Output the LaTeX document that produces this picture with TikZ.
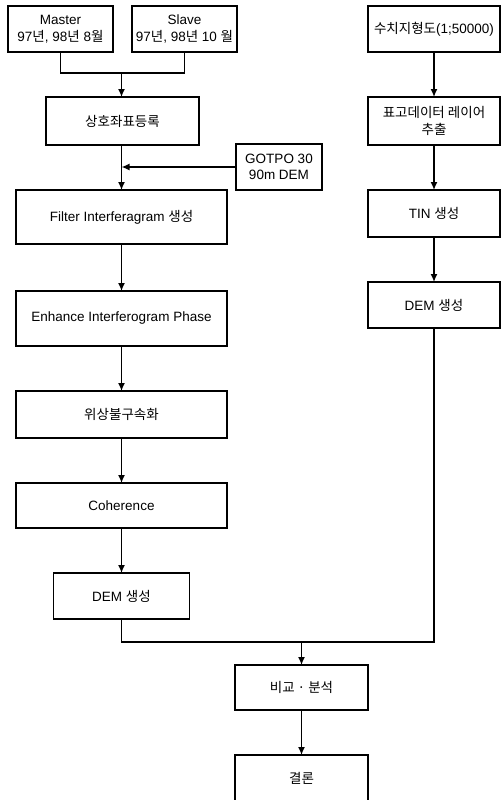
\documentclass[tikz,border=0pt]{standalone}
\usepackage{fontspec}
\setmainfont{Liberation Sans}
\newfontfamily\krfont{Noto Sans CJK KR}
\newcommand{\K}[1]{{\krfont #1}}
\usetikzlibrary{arrows.meta}
\begin{document}
\begin{tikzpicture}[x=1pt,y=-1pt,
  box/.style={draw=black, line width=1.4pt, fill=white, inner sep=0pt, outer sep=0pt,
    align=center, font=\fontsize{13.5}{16.5}\selectfont},
  conn/.style={line width=1.4pt},
  arr/.style={conn, -{Latex[length=8pt,width=7pt]}}]
\fill[white] (0,0) rectangle (501,800);
\useasboundingbox (0,0) rectangle (501,800);

% left column
\node[box, minimum width=105pt, minimum height=46pt] (master) at (60.5,29) {Master\\97\K{년}, 98\K{년} 8\K{월}};
\node[box, minimum width=105pt, minimum height=46pt] (slave) at (184.5,29) {Slave\\97\K{년}, 98\K{년} 10 \K{월}};
\node[box, minimum width=153pt, minimum height=48pt] (sangho) at (122.5,121) {\K{상호좌표등록}};
\node[box, minimum width=86pt, minimum height=46pt] (gotpo) at (279,167) {GOTPO 30\\90m DEM};
\node[box, minimum width=211pt, minimum height=54pt] (filter) at (121.5,217) {Filter Interferagram \K{생성}};
\node[box, minimum width=211pt, minimum height=55pt] (enhance) at (121.5,318.5) {Enhance Interferogram Phase};
\node[box, minimum width=211pt, minimum height=47pt] (wisang) at (121.5,414.5) {\K{위상불구속화}};
\node[box, minimum width=211pt, minimum height=45pt] (coh) at (121.5,505.5) {Coherence};
\node[box, minimum width=136pt, minimum height=46pt] (demL) at (121.5,596) {DEM \K{생성}};

% right column
\node[box, minimum width=132pt, minimum height=46pt] (suchi) at (434,29) {\K{수치지형도}(1;50000)};
\node[box, minimum width=132pt, minimum height=48pt] (pyogo) at (434,121) {\K{표고데이터 레이어}\\\K{추출}};
\node[box, minimum width=132pt, minimum height=47pt] (tin) at (434,213.5) {TIN \K{생성}};
\node[box, minimum width=132pt, minimum height=46pt] (demR) at (434,305) {DEM \K{생성}};

% bottom
\node[box, minimum width=133pt, minimum height=45pt] (bigyo) at (301.5,687.5) {\K{비교 · 분석}};
\node[box, minimum width=133pt, minimum height=46pt] (gyeol) at (301.5,778) {\K{결론}};

\coordinate (mj) at (121.5,73);
\coordinate (jn) at (301.5,642);

\draw[conn] (master.south) |- (mj) -| (slave.south);
\draw[arr] (mj) -- (sangho.north -| mj);
\draw[arr] (sangho.south -| mj) -- (filter.north -| mj);
\draw[arr] (gotpo.west) -- (gotpo.west -| mj);
\draw[arr] (filter.south) -- (enhance.north);
\draw[arr] (enhance.south) -- (wisang.north);
\draw[arr] (wisang.south) -- (coh.north);
\draw[arr] (coh.south) -- (demL.north);

\draw[arr] (suchi.south) -- (pyogo.north);
\draw[arr] (pyogo.south) -- (tin.north);
\draw[arr] (tin.south) -- (demR.north);

\draw[conn] (demL.south) |- (jn) -| (demR.south);
\draw[arr] (jn) -- (bigyo.north);
\draw[arr] (bigyo.south) -- (gyeol.north);
\end{tikzpicture}
\end{document}
